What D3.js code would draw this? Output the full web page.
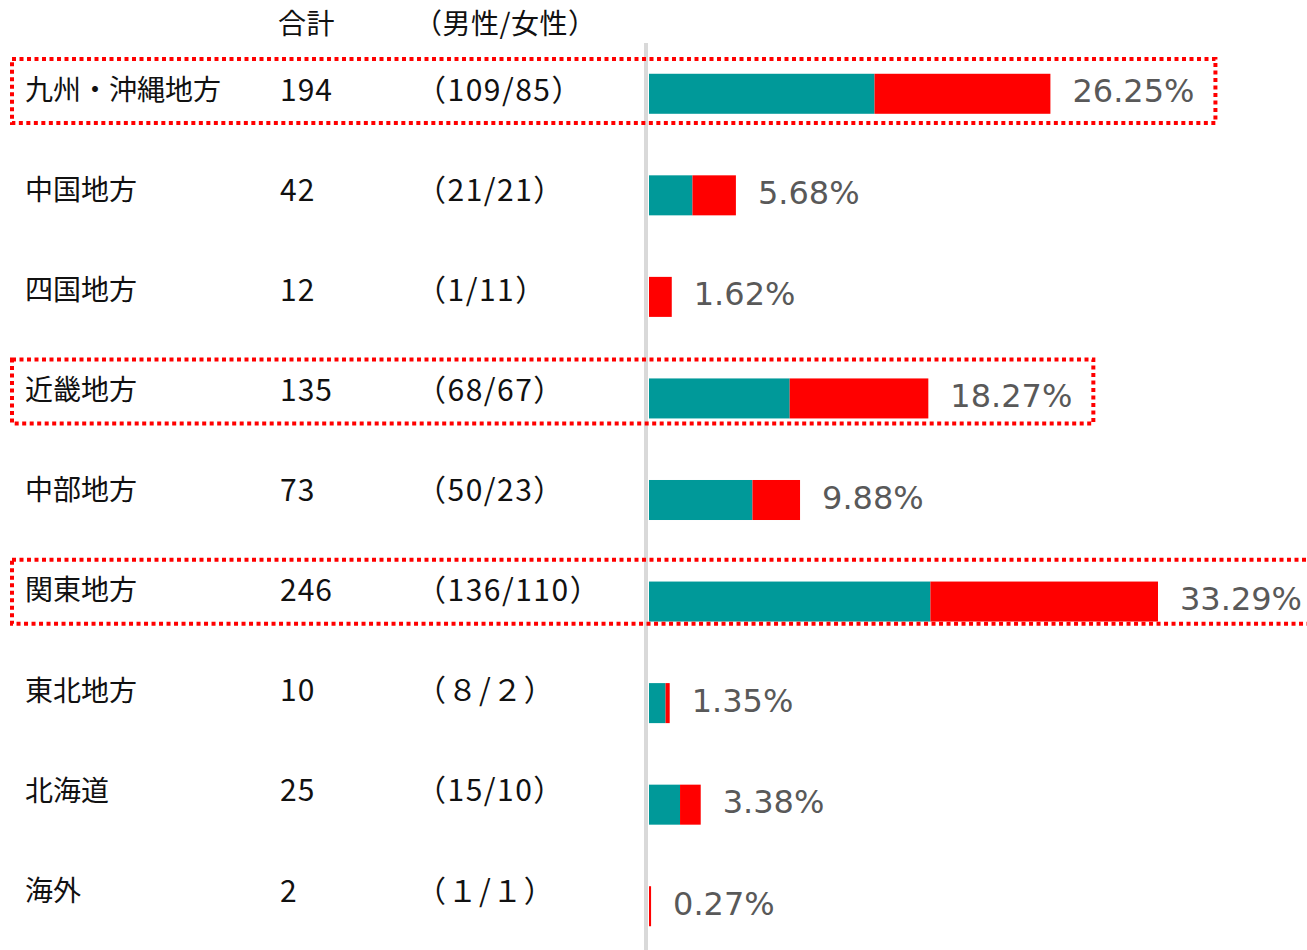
<!DOCTYPE html>
<html>
<head>
<meta charset="utf-8">
<script src="https://cdn.jsdelivr.net/npm/d3@7"></script>
<style>
    body { margin: 0; background: #ffffff; }
    svg { display: block; }
</style>
</head>
<body>
<svg id="mySVG" width="1307" height="950"></svg>
<script>
// ----------------- DATA -----------------
var regions = ['九州・沖縄地方', '中国地方', '四国地方', '近畿地方', '中部地方', '関東地方', '東北地方', '北海道', '海外'];
var totals = [194, 42, 12, 135, 73, 246, 10, 25, 2];
var genderText = ['（109/85）', '（21/21）', '（1/11）', '（68/67）', '（50/23）', '（136/110）', '（８/２）', '（15/10）', '（１/１）'];
var maleBar = [109, 21, 0, 68, 50, 136, 8, 15, 0];
var femaleBar = [85, 21, 11, 67, 23, 110, 2, 10, 1];
var pctLabels = ['26.25%', '5.68%', '1.62%', '18.27%', '9.88%', '33.29%', '1.35%', '3.38%', '0.27%'];
var headers = ['合計', '（男性/女性）'];
var highlighted = ['九州・沖縄地方', '近畿地方', '関東地方'];

var maleColor = '#009999';
var femaleColor = '#ff0000';

// ----------------- SCALES -----------------
var graph = d3.select('#mySVG');

var x = d3.scaleLinear()
    .domain([0, 246])
    .range([649, 1158]);

// bars sit on a slightly wider step than the table text
var yBar = d3.scaleBand()
    .domain(regions)
    .range([43, 957])
    .paddingInner(0.606)
    .paddingOuter(0.303);

var yText = d3.scalePoint()
    .domain(regions)
    .range([90, 891]);

var jpFont = '"Noto Sans CJK JP", "Noto Sans", sans-serif';
var pctFont = '"DejaVu Sans", Verdana, sans-serif';

// ----------------- TABLE -----------------
graph.append('line')
    .attr('x1', 646).attr('x2', 646)
    .attr('y1', 43).attr('y2', 950)
    .attr('stroke', '#d9d9d9')
    .attr('stroke-width', 4);

graph.selectAll('.header')
    .data(headers)
    .enter().append('text')
    .attr('class', 'header')
    .attr('x', function(d, i) { return i === 0 ? 278 : 414; })
    .attr('y', 24)
    .attr('dy', '0.35em')
    .style('font', '28px ' + jpFont)
    .style('letter-spacing', '0.5px')
    .style('fill', '#111')
    .text(function(d) { return d; });

var rows = graph.selectAll('.row')
    .data(regions)
    .enter().append('g')
    .attr('class', 'row');

rows.append('text')
    .attr('x', 25)
    .attr('y', function(d) { return yText(d); })
    .attr('dy', '0.35em')
    .style('font', '28px ' + jpFont)
    .style('fill', '#111')
    .text(function(d) { return d; });

rows.append('text')
    .attr('x', 280)
    .attr('y', function(d) { return yText(d); })
    .attr('dy', '0.35em')
    .style('font', '30px ' + jpFont)
    .style('letter-spacing', '1px')
    .style('fill', '#111')
    .text(function(d, i) { return totals[i]; });

rows.append('text')
    .attr('x', 416)
    .attr('y', function(d) { return yText(d); })
    .attr('dy', '0.35em')
    .style('font', '30px ' + jpFont)
    .style('letter-spacing', '1.5px')
    .style('fill', '#111')
    .text(function(d, i) { return genderText[i]; });

// ----------------- BARS -----------------
rows.append('rect')
    .attr('x', x(0))
    .attr('y', function(d) { return yBar(d); })
    .attr('width', function(d, i) { return x(maleBar[i]) - x(0); })
    .attr('height', yBar.bandwidth())
    .attr('fill', maleColor);

rows.append('rect')
    .attr('x', function(d, i) { return x(maleBar[i]); })
    .attr('y', function(d) { return yBar(d); })
    .attr('width', function(d, i) { return x(maleBar[i] + femaleBar[i]) - x(maleBar[i]); })
    .attr('height', yBar.bandwidth())
    .attr('fill', femaleColor);

var pct = rows.append('text')
    .attr('class', 'pct')
    .attr('x', function(d, i) { return x(maleBar[i] + femaleBar[i]) + 22; })
    .attr('y', function(d) { return yBar(d) + yBar.bandwidth() / 2 - 3; })
    .attr('dy', '0.36em')
    .style('font', '32px ' + pctFont)
    .style('fill', '#595959')
    .text(function(d, i) { return pctLabels[i]; });

// ----------------- HIGHLIGHT BOXES -----------------
pct.each(function(d) {
    if (highlighted.indexOf(d) < 0) return;
    var box = this.getBBox();
    var top = yText(d) - 31;
    graph.append('rect')
        .attr('x', 12)
        .attr('y', top)
        .attr('width', box.x + box.width + 21 - 12)
        .attr('height', 64)
        .attr('fill', 'none')
        .attr('stroke', '#ff0000')
        .attr('stroke-width', 4)
        .attr('stroke-dasharray', '4 3.5');
});
</script>
</body>
</html>
